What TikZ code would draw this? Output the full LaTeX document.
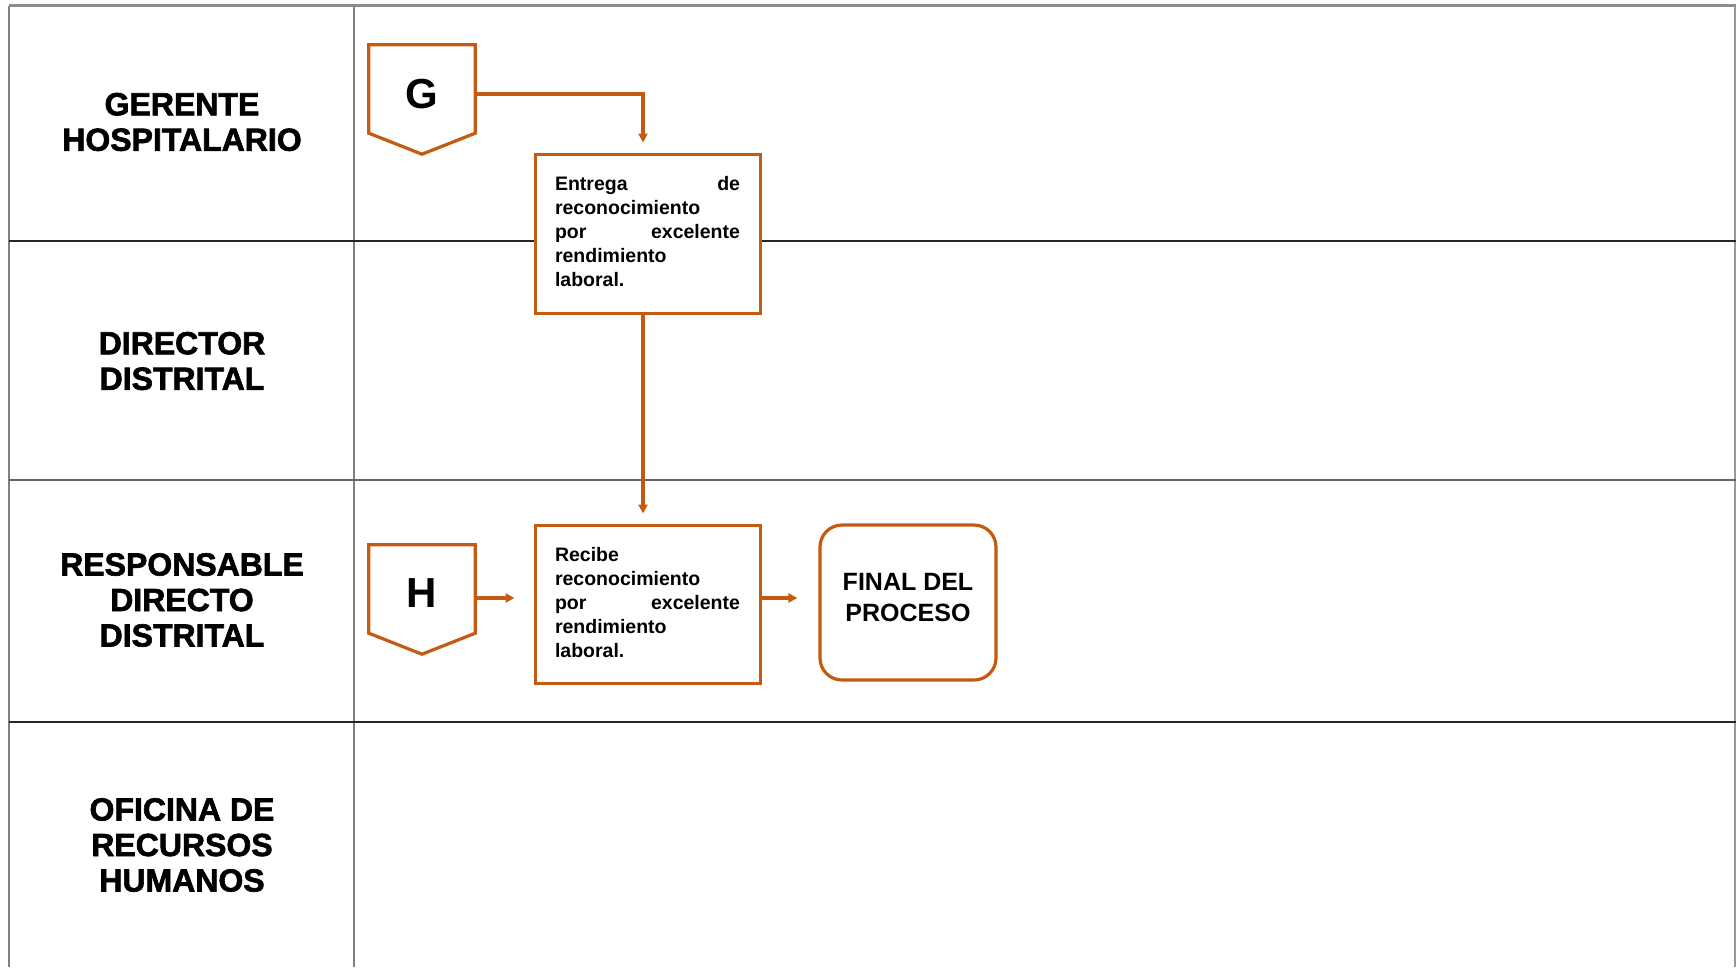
\documentclass[tikz,border=0pt]{standalone}
\usepackage{fontspec}
\setmainfont{Liberation Sans}
\newfontfamily\heavyfont[UprightFont=* Bold, FakeBold=2]{Liberation Sans}
\usetikzlibrary{arrows.meta,calc}
\definecolor{orng}{RGB}{197,90,17}
\tikzset{
  lane/.style={font=\heavyfont\fontsize{32}{35.5}\selectfont, align=center},
  laneline/.style={line width=1.6pt, black!85},
  greyline/.style={line width=2.2pt, black!50},
  pentframe/.style={minimum width=106pt, minimum height=88pt, inner sep=0pt},
  pent/.style={draw=orng, line width=3.2pt, line join=miter, fill=white},
  letter/.style={font=\bfseries\fontsize{42}{42}\selectfont, inner sep=0pt},
  proc/.style={draw=orng, line width=3pt, fill=white, minimum width=225pt, inner sep=0pt},
  endbox/.style={draw=orng, line width=3.2pt, rounded corners=22pt, minimum width=176pt, minimum height=155pt},
  endtext/.style={align=center, font=\bfseries\fontsize{25}{31}\selectfont},
  arr/.style={draw=orng, line width=3.2pt, -{Triangle[length=9pt,width=9pt]}},
}
\newcommand{\proctext}{\bfseries\fontsize{19.5}{24}\selectfont}
\begin{document}
\begin{tikzpicture}[x=1pt,y=-1pt]
\useasboundingbox (0,0) rectangle (1736,967);
% lane grid
\draw[greyline, line width=2.8pt, black!45] (9,5.5) -- (1736,5.5);
\draw[greyline] (9,5.5) -- (9,967);
\draw[greyline] (354,5.5) -- (354,967);
\draw[line width=1.2pt, black!40] (1735,5.5) -- (1735,967);
\draw[laneline] (9,241) -- (1736,241);
\draw[greyline, black!60] (9,480) -- (1736,480);
\draw[laneline] (9,722) -- (1736,722);
% lane labels
\node[lane] (l1) at (182,122) {GERENTE\\HOSPITALARIO};
\node[lane] (l2) at (182,361) {DIRECTOR\\DISTRITAL};
\node[lane] (l3) at (182,600) {RESPONSABLE\\DIRECTO\\DISTRITAL};
\node[lane] (l4) at (182,845) {OFICINA DE\\RECURSOS\\HUMANOS};
% G connector
\node[pentframe] (Gp) at (422,89) {};
\draw[pent] (Gp.north west) -- (Gp.north east) -- (Gp.south east) -- ($(Gp.south)+(0,21)$) -- (Gp.south west) -- cycle;
\node[letter] (G) at (422,94) {G};
% process boxes
\node[proc, minimum height=159pt] (B1) at (647.5,233.5)
  {\parbox[c][115pt][t]{185pt}{\proctext Entrega\hfill de\\reconocimiento\\por\hfill excelente\\rendimiento\\laboral.}};
\node[proc, minimum height=158pt] (B2) at (647.5,604)
  {\parbox[c][114pt][t]{185pt}{\proctext Recibe\\reconocimiento\\por\hfill excelente\\rendimiento\\laboral.}};
% H connector
\node[pentframe] (Hp) at (422,589) {};
\draw[pent] (Hp.north west) -- (Hp.north east) -- (Hp.south east) -- ($(Hp.south)+(0,21)$) -- (Hp.south west) -- cycle;
\node[letter] (H) at (422,593) {H};
% end
\node[endbox] (F) at (908,602.5) {};
\node[endtext] (Ft) at (908,598) {FINAL DEL\\PROCESO};
\coordinate (row) at (0,598);
\coordinate (col) at (643,0);
% arrows
\draw[arr, shorten >=10pt] (Gp.east |- G) -| (col |- B1.north);
\draw[arr, shorten >=10pt] (col |- B1.south) -- (col |- B2.north);
\draw[arr, shorten >=19pt] (Hp.east |- row) -- (B2.west |- row);
\draw[arr, shorten >=21pt] (B2.east |- row) -- (F.west |- row);
\end{tikzpicture}
\end{document}
